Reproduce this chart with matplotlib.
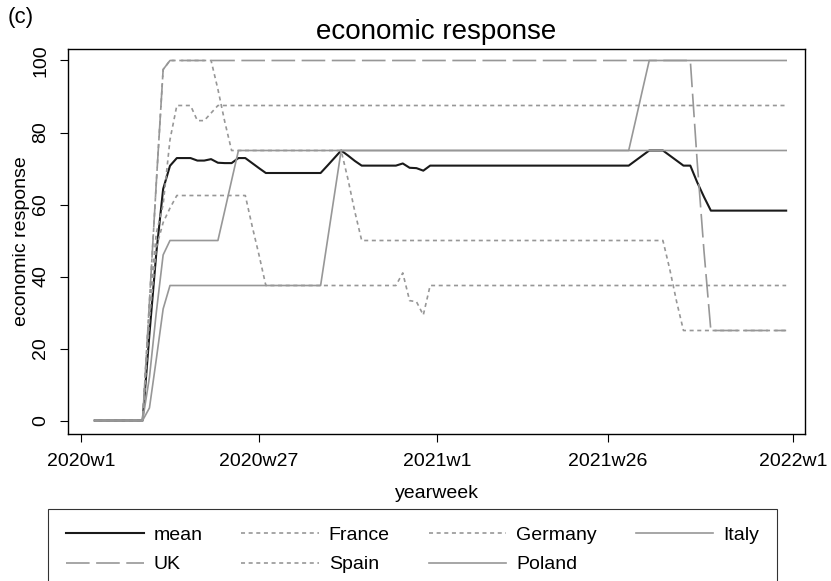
import matplotlib.pyplot as plt
from matplotlib.lines import Line2D

plt.rcParams['font.family'] = ['Liberation Sans', 'DejaVu Sans']
plt.rcParams['lines.scale_dashes'] = False

# x axis: weeks counted from 2020w1 (= 0)
tick_weeks = [0, 26, 52, 77, 104]
tick_labels = ['2020w1', '2020w27', '2021w1', '2021w26', '2022w1']
y_ticks = [0, 20, 40, 60, 80, 100]

# break points of each series (week, value)
mean_wk = [2, 9, 10, 11, 12, 13, 14, 16, 17, 18, 19, 20, 21, 22, 23, 24,
           25, 26, 27, 35, 36, 37, 38, 39, 40, 41, 46, 47, 48, 49, 50, 51,
           80, 81, 82, 83, 85, 86, 87, 88, 89, 90, 91, 92, 103]
mean_val = [0, 0, 24, 46.5, 64.3, 70.75, 72.9, 72.9, 72.2, 72.2, 72.6, 71.6, 71.5, 71.5, 72.9, 72.9,
            71.5, 70.1, 68.75, 68.75, 70.8, 72.9, 75, 73.6, 72.1, 70.8, 70.8, 71.4, 70.2, 70.1, 69.4, 70.8,
            70.8, 72.2, 73.6, 75, 75, 73.6, 72.2, 70.8, 70.8, 66.2, 62.1, 58.3, 58.3]

france_wk = [2, 9, 10, 11, 12, 13, 14, 16, 17, 18, 19, 20, 103]
france_val = [0, 0, 32, 52, 60, 78, 87.5, 87.5, 83.3, 83.3, 85.4, 87.5, 87.5]

germany_wk = [2, 9, 10, 11, 12, 13, 14, 24, 25, 26, 27, 46, 47, 48, 49, 50, 51, 103]
germany_val = [0, 0, 28, 48, 55, 59, 62.5, 62.5, 54, 46, 37.5, 37.5, 41, 33.3, 33, 29.3, 37.5, 37.5]

italy_wk = [2, 9, 10, 11, 12, 13, 20, 21, 22, 23, 103]
italy_val = [0, 0, 12, 30, 46, 50, 50, 58.3, 66.7, 75, 75]

uk_wk = [2, 9, 10, 11, 12, 13, 89, 90, 91, 92, 103]
uk_val = [0, 0, 33, 66, 97.5, 100, 100, 72, 47, 25, 25]

spain_wk = [2, 9, 10, 11, 12, 13, 19, 20, 21, 22, 38, 39, 40, 41, 85, 86, 87, 88, 103]
spain_val = [0, 0, 33, 66, 97.5, 100, 100, 92, 83, 75, 75, 67, 58, 50, 50, 42, 33, 25, 25]

poland_wk = [2, 9, 10, 11, 12, 13, 35, 36, 37, 38, 80, 81, 82, 83, 103]
poland_val = [0, 0, 3.5, 17, 31, 37.5, 37.5, 50, 62.5, 75, 75, 83.3, 91.7, 100, 100]

gray = '#979797'
dot = (2.9, 2.6)
longdash = (17, 4.7)

fig = plt.figure(figsize=(8.31, 5.81), dpi=100)
ax = fig.add_axes([0.0818, 0.253, 0.8869, 0.6627])

l_mean, = ax.plot(mean_wk, mean_val, color='#1a1a1a', lw=1.5, zorder=2)
l_fr, = ax.plot(france_wk, france_val, color=gray, lw=1.2, dashes=dot, zorder=3)
l_de, = ax.plot(germany_wk, germany_val, color=gray, lw=1.2, dashes=dot, zorder=3)
l_it, = ax.plot(italy_wk, italy_val, color=gray, lw=1.2, zorder=3)
l_uk, = ax.plot(uk_wk, uk_val, color=gray, lw=1.2, dashes=longdash, zorder=3)
l_es, = ax.plot(spain_wk, spain_val, color=gray, lw=1.2, dashes=dot, zorder=3)
l_pl, = ax.plot(poland_wk, poland_val, color=gray, lw=1.2, zorder=3)

ax.set_xlim(-1.9, 105.75)
ax.set_ylim(-3.75, 103.2)
ax.set_xticks(tick_weeks)
ax.set_xticklabels(tick_labels)
ax.set_yticks(y_ticks)
for lab in ax.get_yticklabels():
    lab.set_rotation(90)
    lab.set_va('center')
ax.tick_params(direction='out', length=5.5, width=0.8, labelsize=14, pad=8)
for s in ax.spines.values():
    s.set_linewidth(1.0)

ax.set_xlabel('yearweek', fontsize=14)
ax.xaxis.set_label_coords(0.5, -0.133)
ax.set_ylabel('economic response', fontsize=14)
ax.yaxis.set_label_coords(-0.052, 0.5)

fig.text(0.5253, 1 - 32 / 581, 'economic response', fontsize=20, ha='center', va='center')
fig.text(8 / 831, 1 - 17 / 581, '(c)', fontsize=16, ha='left', va='center')

# matplotlib fills legend column by column
handles = [l_mean, l_uk, l_fr, l_es, l_de, l_pl, l_it]
labels = ['mean', 'UK', 'France', 'Spain', 'Germany', 'Poland', 'Italy']
leg = fig.legend(handles, labels, ncol=4, loc='upper center',
                 bbox_to_anchor=(412.5 / 831, 1 - 509 / 581), fontsize=14,
                 frameon=True, fancybox=False, edgecolor='black',
                 handlelength=4.0, handletextpad=0.5, columnspacing=2.0,
                 labelspacing=0.6, borderaxespad=0, borderpad=0.9)
leg.get_frame().set_linewidth(0.8)

fig.savefig('out.png', dpi=100)
